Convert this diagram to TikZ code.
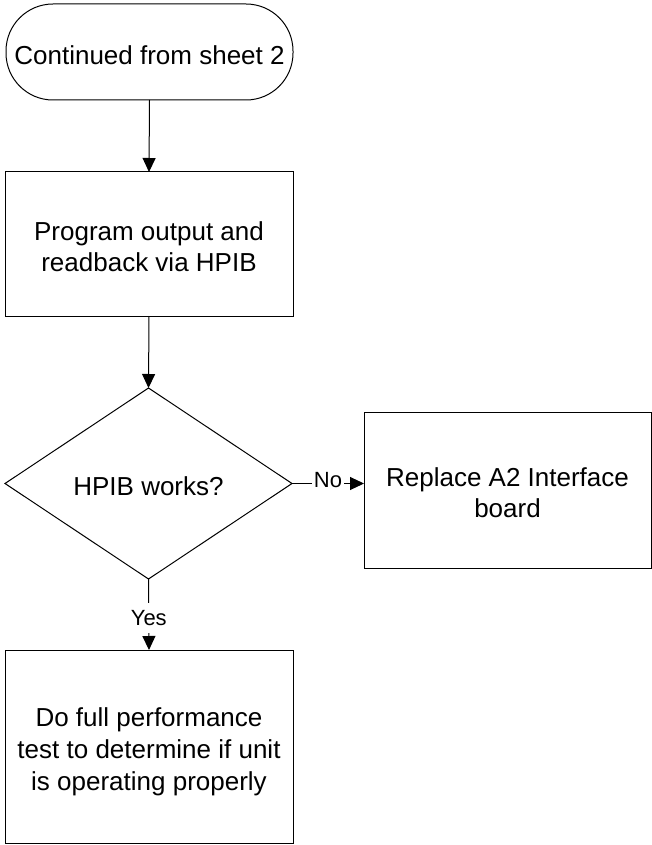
\documentclass[tikz,border=0pt]{standalone}
\usepackage{fontspec}
\setmainfont{Liberation Sans}
\usetikzlibrary{shapes.geometric,arrows.meta}
\newcommand{\ctext}[2][31pt]{\raisebox{-6pt}[\height][\depth]{\fontsize{26}{#1}\selectfont\begin{tabular}{@{}c@{}}#2\end{tabular}}}
\begin{document}
\begin{tikzpicture}[x=1pt,y=-1pt,
  every node/.style={inner sep=0pt, outer sep=0pt},
  base/.style={draw=black, line width=1pt, align=center},
  procbox/.style={base, rectangle},
  termbox/.style={base, rectangle, rounded corners=47pt},
  decbox/.style={base, diamond},
  conn/.style={draw=black, line width=1pt, -{Triangle[length=14pt,width=13pt]}},
  lbl/.style={fill=white, inner xsep=2pt, inner ysep=7pt, font=\fontsize{22}{24}\selectfont}
]
\useasboundingbox (0,0) rectangle (652,845);
\node[termbox, minimum width=287pt, minimum height=96pt] (term) at (149.5,52) {\ctext{Continued from sheet 2}};
\node[procbox, minimum width=288pt, minimum height=144pt] (prog) at (149,244) {\ctext{Program output and\\readback via HPIB}};
\node[decbox, minimum width=287pt, minimum height=191pt] (dec) at (148.5,483.5) {\ctext{HPIB works?}};
\node[procbox, minimum width=287pt, minimum height=156pt] (repl) at (507.5,490) {\ctext{Replace A2 Interface\\board}};
\node[procbox, minimum width=288pt, minimum height=193pt] (perf) at (149,746.5) {\ctext[32pt]{Do full performance\\test to determine if unit\\is operating properly}};
\draw[conn] (term.south) -- (prog.north);
\draw[conn] (prog.south) -- (dec.north);
\draw[conn] (dec.east) -- node[lbl, yshift=3pt] (no) {No} (repl.west |- dec.east);
\draw[conn] (dec.south) -- node[lbl, pos=0.55] (yes) {Yes} (perf.north);
\end{tikzpicture}
\end{document}
